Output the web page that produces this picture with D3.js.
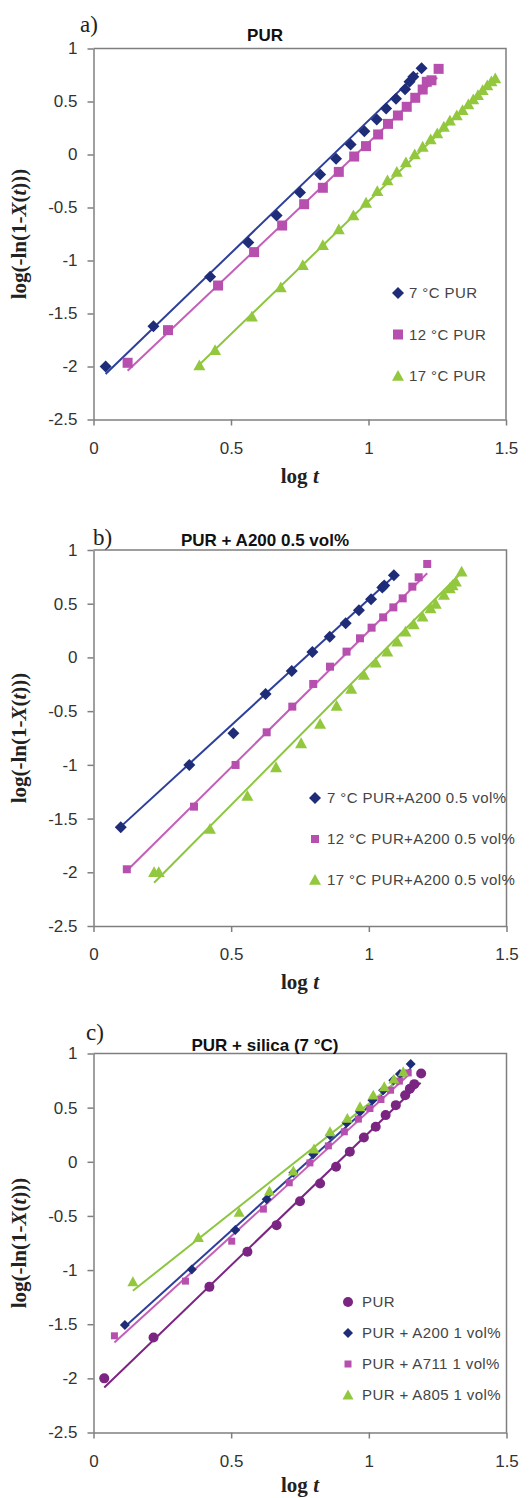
<!DOCTYPE html>
<html>
<head>
<meta charset="utf-8">
<script src="https://cdn.jsdelivr.net/npm/d3@7"></script>
<style>
  html, body { margin: 0; padding: 0; background: #fff; }
  svg { display: block; }
</style>
</head>
<body>
<div id="chart"></div>
<script>
// axis ticks shared by the three panels
const xTicks = [0, 0.5, 1, 1.5];
const yTicks = [-2.5, -2, -1.5, -1, -0.5, 0, 0.5, 1];
const panelTags = ["a)", "b)", "c)"];
const panelTitles = ["PUR", "PUR + A200 0.5 vol%", "PUR + silica (7 \u00b0C)"];

// a) PUR at three temperatures  [log t, log(-ln(1-X))]
const legendA = ["7 \u00b0C PUR", "12 \u00b0C PUR", "17 \u00b0C PUR"];
const pur7 = [[0.044,-2.0],[0.218,-1.62],[0.424,-1.154],[0.563,-0.83],[0.666,-0.575],[0.751,-0.358],
  [0.824,-0.189],[0.882,-0.041],[0.935,0.094],[0.985,0.22],[1.03,0.33],[1.064,0.434],[1.1,0.525],
  [1.133,0.616],[1.149,0.686],[1.163,0.733],[1.193,0.814]];
const pur12 = [[0.124,-1.965],[0.271,-1.657],[0.453,-1.236],[0.584,-0.921],[0.686,-0.67],[0.766,-0.469],
  [0.834,-0.314],[0.892,-0.164],[0.948,-0.019],[0.991,0.079],[1.035,0.189],[1.071,0.289],[1.107,0.368],
  [1.139,0.45],[1.17,0.535],[1.197,0.613],[1.212,0.686],[1.229,0.70],[1.255,0.808]];
const pur17 = [[0.385,-1.99],[0.442,-1.846],[0.576,-1.53],[0.681,-1.255],[0.761,-1.044],[0.834,-0.855],
  [0.892,-0.708],[0.945,-0.575],[0.991,-0.456],[1.032,-0.346],[1.069,-0.245],[1.103,-0.164],[1.136,-0.075],
  [1.168,0.0],[1.197,0.072],[1.226,0.142],[1.25,0.198],[1.274,0.261],[1.296,0.318],[1.321,0.368],
  [1.342,0.418],[1.363,0.472],[1.381,0.519],[1.398,0.56],[1.415,0.607],[1.432,0.651],[1.447,0.689],[1.461,0.717]];
const pur7Fit = [[0.044,-2.07],[1.18,0.77]];
const pur12Fit = [[0.124,-2.04],[1.25,0.726]];
const pur17Fit = [[0.378,-2.0],[1.466,0.726]];

// b) PUR + A200 0.5 vol%
const legendB = ["7 \u00b0C PUR+A200 0.5 vol%", "12 \u00b0C PUR+A200 0.5 vol%", "17 \u00b0C PUR+A200 0.5 vol%"];
const a200h7 = [[0.099,-1.581],[0.348,-1.001],[0.508,-0.706],[0.625,-0.34],[0.72,-0.126],[0.795,0.051],
  [0.858,0.193],[0.916,0.317],[0.964,0.438],[1.008,0.541],[1.049,0.652],[1.056,0.67],[1.091,0.764]];
const a200h12 = [[0.121,-1.972],[0.365,-1.389],[0.516,-1.001],[0.629,-0.697],[0.722,-0.458],[0.798,-0.247],
  [0.859,-0.086],[0.919,0.054],[0.968,0.178],[1.01,0.277],[1.052,0.373],[1.089,0.466],[1.123,0.55],
  [1.158,0.659],[1.181,0.746],[1.212,0.87]];
const a200h17 = [[0.22,-2.0],[0.237,-2.0],[0.423,-1.597],[0.559,-1.29],[0.663,-1.023],[0.754,-0.8],
  [0.823,-0.62],[0.883,-0.452],[0.936,-0.294],[0.982,-0.164],[1.025,-0.049],[1.067,0.054],[1.103,0.147],
  [1.133,0.24],[1.163,0.308],[1.195,0.379],[1.224,0.457],[1.243,0.497],[1.273,0.581],[1.294,0.643],
  [1.304,0.671],[1.316,0.705],[1.337,0.798]];
const a200h7Fit = [[0.099,-1.575],[1.10,0.777]];
const a200h12Fit = [[0.121,-1.985],[1.212,0.783]];
const a200h17Fit = [[0.22,-2.097],[1.331,0.777]];

// c) PUR + silica at 7 °C
const legendC = ["PUR", "PUR + A200 1 vol%", "PUR + A711 1 vol%", "PUR + A805 1 vol%"];
const silPur = [[0.039,-2.0],[0.218,-1.622],[0.421,-1.155],[0.559,-0.831],[0.665,-0.585],[0.75,-0.364],
  [0.823,-0.2],[0.881,-0.046],[0.931,0.092],[0.982,0.224],[1.025,0.323],[1.061,0.431],[1.098,0.523],
  [1.132,0.615],[1.149,0.674],[1.165,0.717],[1.19,0.815]];
const silA200 = [[0.114,-1.508],[0.357,-0.994],[0.515,-0.631],[0.629,-0.345],[0.726,-0.102],[0.798,0.07],
  [0.859,0.246],[0.919,0.36],[0.968,0.461],[1.013,0.569],[1.052,0.661],[1.089,0.754],[1.113,0.81],[1.152,0.902]];
const silA711 = [[0.076,-1.607],[0.334,-1.102],[0.502,-0.733],[0.617,-0.437],[0.711,-0.194],[0.786,-0.01],
  [0.853,0.147],[0.911,0.277],[0.962,0.394],[1.004,0.492],[1.044,0.575],[1.079,0.661],[1.111,0.745],[1.143,0.821]];
const silA805 = [[0.143,-1.108],[0.381,-0.699],[0.529,-0.468],[0.639,-0.271],[0.726,-0.086],[0.801,0.117],
  [0.859,0.277],[0.922,0.4],[0.968,0.508],[1.016,0.615],[1.056,0.692],[1.091,0.763],[1.125,0.831]];
const silPurFit = [[0.039,-2.084],[1.188,0.729]];
const silA200Fit = [[0.114,-1.524],[1.152,0.861]];
const silA711Fit = [[0.076,-1.669],[1.143,0.80]];
const silA805Fit = [[0.143,-1.191],[1.131,0.80]];

const width = 529;
const height = 1498;

const navy = "#1f2c78", navyLine = "#2c3f9a";
const magenta = "#b64fae", magentaLine = "#c35fb8";
const green = "#93c83e", greenLine = "#8cc63f";
const purple = "#7b2583", purpleLine = "#7b2583";

// marker path by shape, s = full width
function markerPath(shape, s) {
    const r = s / 2;
    if (shape === "diamond") return `M0,${-r}L${r},0L0,${r}L${-r},0Z`;
    if (shape === "square") return `M${-r},${-r}h${s}v${s}h${-s}Z`;
    if (shape === "triangle") return `M0,${-r}L${r},${r * 0.8}L${-r},${r * 0.8}Z`;
    return `M${r},0A${r},${r} 0 1,1 ${-r},0A${r},${r} 0 1,1 ${r},0Z`;
}

const panels = [
    {
        top: 48.5, bottom: 419.5, left: 93.5, right: 506,
        titleY: 41, tagX: 80, tagY: 32,
        legend: { x: 398, y: 293, step: 41.5, textX: 409 },
        series: [
            { data: pur7, fit: pur7Fit, label: legendA[0], color: navy, line: navyLine, shape: "diamond", size: 12 },
            { data: pur12, fit: pur12Fit, label: legendA[1], color: magenta, line: magentaLine, shape: "square", size: 10 },
            { data: pur17, fit: pur17Fit, label: legendA[2], color: green, line: greenLine, shape: "triangle", size: 12 }
        ]
    },
    {
        top: 550, bottom: 926, left: 93.5, right: 506.5,
        titleY: 546, tagX: 93, tagY: 545,
        legend: { x: 315, y: 798, step: 41, textX: 327 },
        series: [
            { data: a200h7, fit: a200h7Fit, label: legendB[0], color: navy, line: navyLine, shape: "diamond", size: 12 },
            { data: a200h12, fit: a200h12Fit, label: legendB[1], color: magenta, line: magentaLine, shape: "square", size: 8 },
            { data: a200h17, fit: a200h17Fit, label: legendB[2], color: green, line: greenLine, shape: "triangle", size: 12 }
        ]
    },
    {
        top: 1053.5, bottom: 1432.5, left: 93.5, right: 506.5,
        titleY: 1051, tagX: 86, tagY: 1040,
        legend: { x: 348, y: 1302, step: 31, textX: 362 },
        series: [
            { data: silPur, fit: silPurFit, label: legendC[0], color: purple, line: purpleLine, shape: "circle", size: 10 },
            { data: silA200, fit: silA200Fit, label: legendC[1], color: navy, line: navyLine, shape: "diamond", size: 10 },
            { data: silA711, fit: silA711Fit, label: legendC[2], color: magenta, line: magentaLine, shape: "square", size: 7 },
            { data: silA805, fit: silA805Fit, label: legendC[3], color: green, line: greenLine, shape: "triangle", size: 11 }
        ]
    }
];

const svg = d3.select("#chart").append("svg")
    .attr("width", width)
    .attr("height", height)
    .style("font-family", "Arial, 'Liberation Sans', sans-serif");

panels.forEach((p, i) => {
    const x = d3.scaleLinear().domain([0, 1.5]).range([p.left, p.right]);
    const y = d3.scaleLinear().domain([-2.5, 1]).range([p.bottom, p.top]);
    const g = svg.append("g").attr("class", "panel");

    // plot frame (top and right)
    g.append("path")
        .attr("d", `M${p.left},${p.top}H${p.right}V${p.bottom}`)
        .attr("fill", "none")
        .attr("stroke", "#7f7f7f")
        .attr("stroke-width", 1.5);

    // axes
    const xAxis = g.append("g")
        .attr("transform", `translate(0,${p.bottom})`)
        .call(d3.axisBottom(x).tickValues(xTicks).tickSizeInner(6).tickSizeOuter(0).tickPadding(16)
            .tickFormat(d3.format("")));
    const yAxis = g.append("g")
        .attr("transform", `translate(${p.left},0)`)
        .call(d3.axisLeft(y).tickValues(yTicks).tickSizeInner(6).tickSizeOuter(0).tickPadding(10)
            .tickFormat(d3.format("")));
    [xAxis, yAxis].forEach(ax => {
        ax.select(".domain").attr("stroke", "#7f7f7f").attr("stroke-width", 1.5);
        ax.selectAll(".tick line").attr("stroke", "#7f7f7f").attr("stroke-width", 1.5);
        ax.selectAll(".tick text")
            .attr("fill", "#333")
            .style("font-size", "17px")
            .style("font-family", "Arial, 'Liberation Sans', sans-serif")
            .text(d => String(d).replace("\u2212", "-"));
    });

    // fitted lines
    const line = d3.line().x(d => x(d[0])).y(d => y(d[1]));
    p.series.forEach(s => {
        g.append("path")
            .attr("d", line(s.fit))
            .attr("fill", "none")
            .attr("stroke", s.line)
            .attr("stroke-width", 2);
    });

    // markers
    p.series.forEach(s => {
        g.append("g").selectAll("path")
            .data(s.data)
            .enter()
            .append("path")
            .attr("transform", d => `translate(${x(d[0])},${y(d[1])})`)
            .attr("d", markerPath(s.shape, s.size))
            .attr("fill", s.color);
    });

    // legend
    p.series.forEach((s, k) => {
        const ly = p.legend.y + k * p.legend.step;
        g.append("path")
            .attr("transform", `translate(${p.legend.x},${ly})`)
            .attr("d", markerPath(s.shape, s.size))
            .attr("fill", s.color);
        g.append("text")
            .attr("x", p.legend.textX)
            .attr("y", ly + 5)
            .attr("fill", "#444")
            .style("font-size", "15px")
            .style("letter-spacing", "0.4px")
            .text(s.label);
    });

    // chart title
    g.append("text")
        .attr("x", 265)
        .attr("y", p.titleY)
        .attr("text-anchor", "middle")
        .attr("fill", "#111")
        .style("font-size", "17px")
        .style("font-weight", "bold")
        .text(panelTitles[i]);

    // panel tag a) b) c)
    g.append("text")
        .attr("x", p.tagX)
        .attr("y", p.tagY)
        .attr("fill", "#222")
        .style("font-family", "'Times New Roman', 'Liberation Serif', serif")
        .style("font-size", "23px")
        .text(panelTags[i]);

    // x axis title (kept inside the page at the bottom panel)
    const xt = g.append("text")
        .attr("x", (p.left + p.right) / 2)
        .attr("y", Math.min(p.bottom + 63, height - 6))
        .attr("text-anchor", "middle")
        .attr("fill", "#222")
        .style("font-family", "'Times New Roman', 'Liberation Serif', serif")
        .style("font-size", "21px")
        .style("font-weight", "bold");
    xt.append("tspan").text("log ");
    xt.append("tspan").style("font-style", "italic").text("t");

    // y axis title
    const yt = g.append("text")
        .attr("transform", `translate(26,${(p.top + p.bottom) / 2}) rotate(-90)`)
        .attr("text-anchor", "middle")
        .attr("fill", "#222")
        .style("font-family", "'Times New Roman', 'Liberation Serif', serif")
        .style("font-size", "21px")
        .style("font-weight", "bold");
    yt.append("tspan").text("log(-ln(1-");
    yt.append("tspan").style("font-style", "italic").text("X");
    yt.append("tspan").text("(");
    yt.append("tspan").style("font-style", "italic").text("t");
    yt.append("tspan").text(")))");
});
</script>
</body>
</html>
